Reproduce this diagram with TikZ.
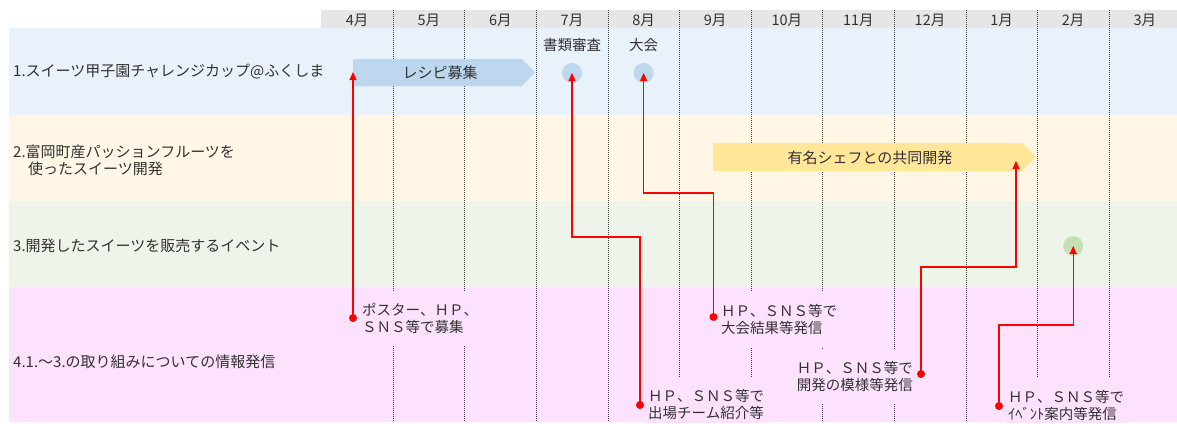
\documentclass[tikz,border=0pt]{standalone}
\usepackage{fontspec}
\setmainfont{Noto Sans CJK JP}
\usetikzlibrary{arrows.meta,calc}
\definecolor{rowA}{RGB}{233,241,250}
\definecolor{rowB}{RGB}{255,246,229}
\definecolor{rowC}{RGB}{238,244,233}
\definecolor{rowD}{RGB}{253,226,253}
\definecolor{hdr}{RGB}{230,230,230}
\definecolor{barA}{RGB}{189,215,238}
\definecolor{barB}{RGB}{255,230,153}
\definecolor{dotG}{RGB}{197,224,180}
\definecolor{txt}{RGB}{50,50,50}
\definecolor{gridc}{RGB}{60,60,60}
\tikzset{
  lbl/.style={font=\fontsize{15}{17}\selectfont, text=txt, inner sep=0pt},
  mon/.style={font=\fontsize{14.5}{16}\selectfont, text=txt, inner sep=0pt},
  gline/.style={draw=gridc, line width=0.6pt, dash pattern=on 1pt off 1pt},
  note/.style={font=\fontsize{14.5}{17}\selectfont, text=txt, fill=rowD, align=left, inner xsep=3pt, inner ysep=12pt},
  conn/.style={draw=red, line width=1.1pt, -{Triangle[width=7pt,length=8pt]}},
  rdot/.style={circle, fill=red, inner sep=0pt, minimum size=8pt},
  milestone/.style={circle, inner sep=0pt, minimum size=20pt},
}
\begin{document}
\begin{tikzpicture}[x=1pt,y=-1pt]
\useasboundingbox (0,0) rectangle (1177,423);
% rows
\fill[rowA] (9,28) rectangle (1181,115);
\fill[rowB] (9,115) rectangle (1181,201);
\fill[rowC] (9,201) rectangle (1181,287);
\fill[rowD] (9,287) rectangle (1181,422);
% header
\fill[hdr] (321.4,10) rectangle (1181,28);
\foreach \m [count=\i from 0] in {4月,5月,6月,7月,8月,9月,10月,11月,12月,1月,2月,3月}{
  \node[mon] (m\i) at (357.2+71.6*\i,20) {\m};
}
\foreach \i in {1,...,11}{
  \draw[gline] (321.4+71.6*\i,10) -- (321.4+71.6*\i,422);
}
% row labels
\node[lbl, anchor=west] (r1) at (13,72) {1.スイーツ甲子園チャレンジカップ@ふくしま};
\node[lbl, anchor=west, align=left] (r2) at (13,160.5) {2.富岡町産パッションフルーツを\\　使ったスイーツ開発};
\node[lbl, anchor=west] (r3) at (13,246) {3.開発したスイーツを販売するイベント};
\node[lbl, anchor=west] (r4) at (13,362) {4.1.～3.の取り組みについての情報発信};
% bars
\fill[barA] (353,59) -- (522,59) -- (535,72.5) -- (522,86) -- (353,86) -- cycle;
\node[lbl] (barAt) at (440,72.5) {レシピ募集};
\fill[barB] (713,143) -- (1022,143) -- (1036,157) -- (1022,171) -- (713,171) -- cycle;
\node[lbl] (barBt) at (870,158) {有名シェフとの共同開発};
\coordinate (tA) at (353,72);
\coordinate (tB) at (1016,161);
% milestones
\node[mon] (s7) at (572,45) {書類審査};
\node[mon] (s8) at (643.6,45) {大会};
\node[milestone, fill=barA] (c7) at (572,73) {};
\node[milestone, fill=barA] (c8) at (643.6,73) {};
\node[milestone, fill=dotG] (cG) at (1073.2,246) {};
% notes
\begin{scope}
\clip (9,287) rectangle (1181,422);
\node[note, anchor=west] (nA) at (359,318.5) {ポスター、ＨＰ、\\ＳＮＳ等で募集};
\node[note, anchor=west] (nB) at (645,404.5) {ＨＰ、ＳＮＳ等で\\出場チーム紹介等};
\node[note, anchor=west] (nC) at (718,319.5) {ＨＰ、ＳＮＳ等で\\大会結果等発信};
\node[note, anchor=east] (nD) at (916,376.5) {ＨＰ、ＳＮＳ等で\\開発の模様等発信};
\node[note, anchor=west] (nE) at (1005,405.5) {ＨＰ、ＳＮＳ等で\\ｲﾍﾞﾝﾄ案内等発信};
\end{scope}
% dots
\node[rdot] (dA) at (353,318) {};
\node[rdot] (dB) at (640,405) {};
\node[rdot] (dC) at (713.5,317) {};
\node[rdot] (dD) at (921,374) {};
\node[rdot] (dE) at (999,406) {};
% connectors
\draw[conn] (dA.center) -- (tA);
\draw[conn] (dB.center) -- ++(0,-168) -| (c7.center);
\draw[conn] (dC.center) -- ++(0,-124) -| (c8.center);
\draw[conn] (dD.center) -- ++(0,-107) -| (tB);
\draw[conn] (dE.center) -- ++(0,-81) -| (cG.center);
\end{tikzpicture}
\end{document}
